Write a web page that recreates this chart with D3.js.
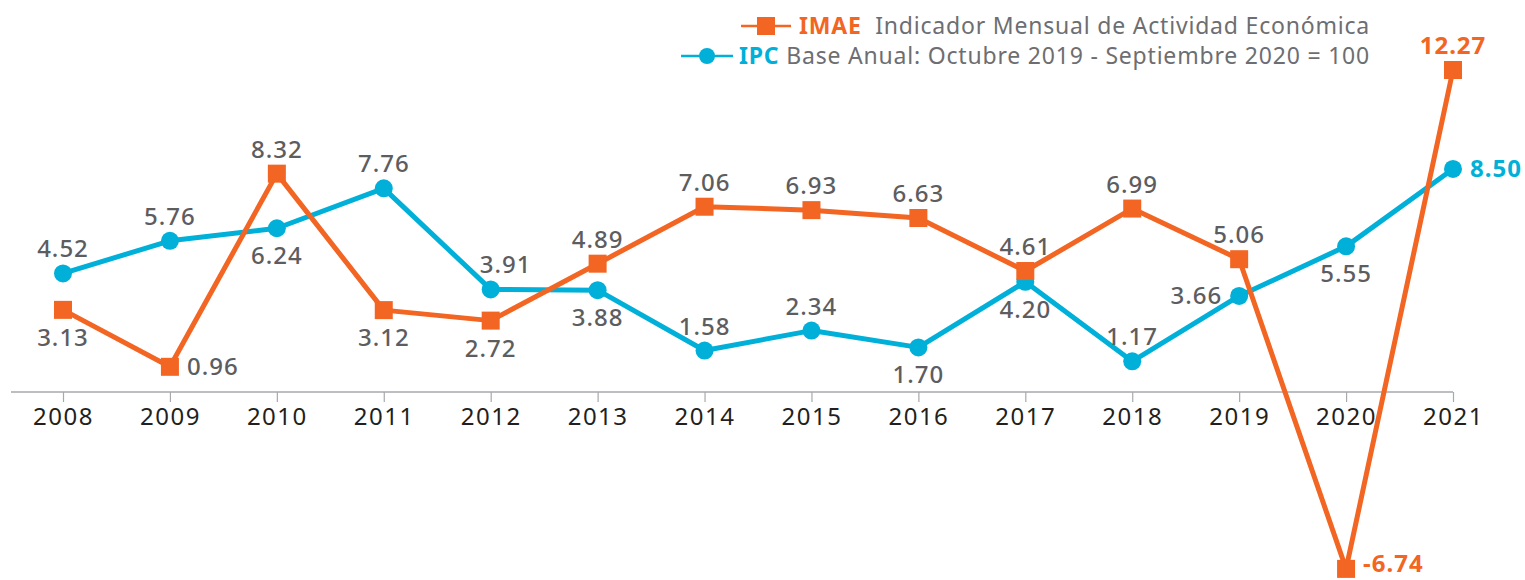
<!DOCTYPE html>
<html>
<head>
<meta charset="utf-8">
<script src="https://cdn.jsdelivr.net/npm/d3@7"></script>
<style>
  body { margin: 0; background: #fff; }
  .canvas text { font-family: "Noto Sans", sans-serif; }
</style>
</head>
<body>
<div class="canvas"></div>
<script>
// Data
const years = ['2008','2009','2010','2011','2012','2013','2014','2015','2016','2017','2018','2019','2020','2021'];
const imae = [3.13, 0.96, 8.32, 3.12, 2.72, 4.89, 7.06, 6.93, 6.63, 4.61, 6.99, 5.06, -6.74, 12.27];
const ipc = [4.52, 5.76, 6.24, 7.76, 3.91, 3.88, 1.58, 2.34, 1.70, 4.20, 1.17, 3.66, 5.55, 8.50];

// where each value label sits relative to its point
const imaePlace = ['below','right','above','below','below','above','above','above','above','above','above','above','right','above'];
const ipcPlace = ['above','above','below','above','aboveRight','below','above','above','below','below','above','left','below','right'];

const orange = '#f26522';
const blue = '#00b0d8';
const grey = '#5d5d5f';

const width = 1525, height = 580;

const svg = d3.select('.canvas')
                .append('svg')
                .attr('width', width)
                .attr('height', height);

const x = d3.scalePoint()
            .domain(years)
            .range([63, 1453]);

const y = d3.scaleLinear()
            .domain([0, 12.27])
            .range([392, 70]);

// x axis
const xAxisGroup = svg.append('g')
                        .attr('transform', `translate(0, ${y(0)})`);
xAxisGroup.append('line')
            .attr('x1', 11)
            .attr('x2', 1453)
            .attr('stroke', '#a7a9ac')
            .attr('stroke-width', 1.5);
const xAxis = d3.axisBottom(x).tickSize(10).tickPadding(6);
xAxisGroup.call(xAxis);
xAxisGroup.select('.domain').remove();
xAxisGroup.selectAll('.tick line').attr('stroke', '#a7a9ac').attr('stroke-width', 1.2);
xAxisGroup.selectAll('text')
            .attr('font-size', 24)
            .attr('letter-spacing', 1.5)
            .attr('fill', '#231f20')
            .style('font-family', '"Noto Sans", sans-serif');

// lines
const line = d3.line()
                .x((d, i) => x(years[i]))
                .y(d => y(d));

svg.append('path')
    .datum(ipc)
    .attr('d', line)
    .attr('fill', 'none')
    .attr('stroke', blue)
    .attr('stroke-width', 5)
    .attr('stroke-linejoin', 'round');

svg.selectAll('circle.ipc')
    .data(ipc)
    .enter()
    .append('circle')
    .attr('class', 'ipc')
    .attr('cx', (d, i) => x(years[i]))
    .attr('cy', d => y(d))
    .attr('r', 9)
    .attr('fill', blue);

svg.append('path')
    .datum(imae)
    .attr('d', line)
    .attr('fill', 'none')
    .attr('stroke', orange)
    .attr('stroke-width', 5)
    .attr('stroke-linejoin', 'round');

const sq = 18;
svg.selectAll('rect.imae')
    .data(imae)
    .enter()
    .append('rect')
    .attr('class', 'imae')
    .attr('x', (d, i) => x(years[i]) - sq / 2)
    .attr('y', d => y(d) - sq / 2)
    .attr('width', sq)
    .attr('height', sq)
    .attr('fill', orange);

// value labels
function placeLabels(values, places, cls, lastColor) {
    svg.selectAll('text.' + cls)
        .data(values)
        .enter()
        .append('text')
        .attr('class', cls)
        .attr('x', (d, i) => {
            const p = places[i];
            if (p === 'right') return x(years[i]) + 17;
            if (p === 'left') return x(years[i]) - 17;
            if (p === 'aboveRight') return x(years[i]) + 15;
            return x(years[i]);
        })
        .attr('y', (d, i) => {
            const p = places[i];
            if (p === 'above' || p === 'aboveRight') return y(d) - 16;
            if (p === 'below') return y(d) + 36;
            return Math.min(y(d) + 8, 572);
        })
        .attr('text-anchor', (d, i) => places[i] === 'right' ? 'start' : places[i] === 'left' ? 'end' : 'middle')
        .attr('font-size', 24)
        .attr('letter-spacing', 1)
        .attr('font-weight', (d, i) => lastColor(i) ? 700 : 500)
        .attr('fill', (d, i) => lastColor(i) || grey)
        .text(d => d.toFixed(2));
}

placeLabels(imae, imaePlace, 'lbl-imae', i => (i >= 12 ? orange : null));
placeLabels(ipc, ipcPlace, 'lbl-ipc', i => (i === 13 ? blue : null));

// legend
const legend = svg.append('g');

const row1 = legend.append('text')
                .attr('x', 1370)
                .attr('y', 34)
                .attr('text-anchor', 'end')
                .attr('font-size', 23)
                .attr('letter-spacing', 0.8);
row1.append('tspan').attr('fill', orange).attr('font-weight', 700).text('IMAE');
row1.append('tspan').attr('fill', '#6d6e71').text('\u00a0 Indicador Mensual de Actividad Económica');

const row2 = legend.append('text')
                .attr('x', 1370)
                .attr('y', 64)
                .attr('text-anchor', 'end')
                .attr('font-size', 23)
                .attr('letter-spacing', 0.8);
row2.append('tspan').attr('fill', blue).attr('font-weight', 700).text('IPC');
row2.append('tspan').attr('fill', '#6d6e71').text(' Base Anual: Octubre 2019 - Septiembre 2020 = 100');

const b1 = row1.node().getBBox();
legend.append('line')
        .attr('x1', b1.x - 58).attr('x2', b1.x - 8)
        .attr('y1', 26).attr('y2', 26)
        .attr('stroke', orange).attr('stroke-width', 2.5);
legend.append('rect')
        .attr('x', b1.x - 42).attr('y', 17)
        .attr('width', 18).attr('height', 18)
        .attr('fill', orange);

const b2 = row2.node().getBBox();
legend.append('line')
        .attr('x1', b2.x - 58).attr('x2', b2.x - 6)
        .attr('y1', 56).attr('y2', 56)
        .attr('stroke', blue).attr('stroke-width', 2.5);
legend.append('circle')
        .attr('cx', b2.x - 32).attr('cy', 56)
        .attr('r', 8)
        .attr('fill', blue);
</script>
</body>
</html>
